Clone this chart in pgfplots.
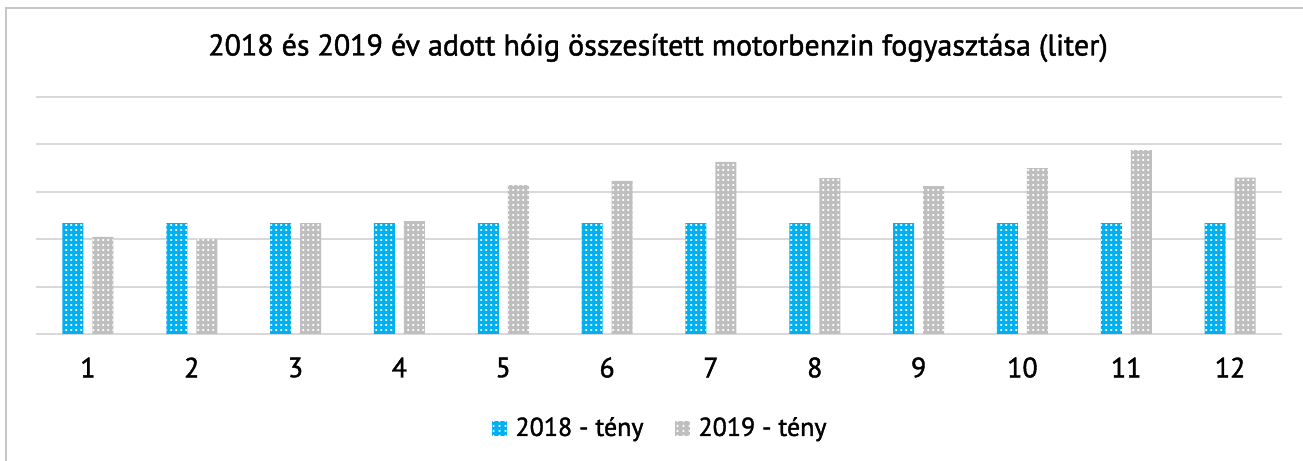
\documentclass[border=0pt]{standalone}
\usepackage{pgfplots}
\pgfplotsset{compat=1.18}
\usepackage{fontspec}
\setmainfont{PT Sans}[BoldFont={PT Sans}, BoldFeatures={FakeBold=1.5}]
\usetikzlibrary{patterns.meta}
\definecolor{cb}{HTML}{00B0F0}
\definecolor{cg}{HTML}{BFBFBF}
\definecolor{gridc}{HTML}{D9D9D9}
\pgfdeclarepattern{
  name=whitedots,
  type=uncolored,
  bottom left={\pgfpoint{0pt}{0pt}},
  top right={\pgfpoint{2.7pt}{2.3pt}},
  tile size={\pgfpoint{2.7pt}{2.3pt}},
  code={\pgfpathrectangle{\pgfpoint{0.8pt}{0.6pt}}{\pgfpoint{1.0pt}{1.0pt}}\pgfusepath{fill}}
}
\begin{document}
\begin{tikzpicture}
\useasboundingbox (0,0) rectangle (651.5pt,230.5pt);
\fill[white] (0,0) rectangle (651.5pt,230.5pt);
\draw[gray!45, line width=1pt] (3pt,226.5pt) rectangle (700pt,-50pt);
\node[font=\fontsize{15}{17}\selectfont\bfseries] at (329pt,206.5pt) {2018 és 2019 év adott hóig összesített motorbenzin fogyasztása (liter)};
\begin{axis}[
  at={(18pt,63.5pt)}, anchor=south west,
  scale only axis, width=623pt, height=118.5pt,
  xmin=0.5, xmax=12.5, ymin=0, ymax=5,
  ybar=4.5pt, bar width=10.5pt,
  xtick={1,...,12}, ytick={0,...,5},
  yticklabels={},
  /pgf/number format/assume math mode=true,
  ymajorgrids, grid style={gridc, line width=1pt},
  axis line style={draw=none},
  tick style={draw=none},
  xticklabel style={font=\fontsize{14}{16}\selectfont\bfseries, anchor=center, yshift=-12.5pt},
  legend columns=2,
  legend style={at={(0.502,-0.397)}, anchor=center, draw=none, fill=none,
    font=\fontsize{13}{15}\selectfont\bfseries, column sep=2pt,
    /tikz/every even column/.append style={column sep=14pt}},
  legend image code/.code={\fill[#1] (0pt,-3.75pt) rectangle (7.5pt,3.75pt);},
]
\addplot[fill=cb, draw=none, postaction={pattern=whitedots, pattern color=white}] coordinates {
(1,2.34) (2,2.34) (3,2.34) (4,2.34) (5,2.34) (6,2.34) (7,2.34) (8,2.34) (9,2.34) (10,2.34) (11,2.34) (12,2.34)};
\addplot[fill=cg, draw=none, postaction={pattern=whitedots, pattern color=white}] coordinates {
(1,2.05) (2,2.00) (3,2.34) (4,2.38) (5,3.14) (6,3.23) (7,3.63) (8,3.29) (9,3.12) (10,3.50) (11,3.88) (12,3.30)};
\legend{2018 - tény, 2019 - tény}
\end{axis}
\end{tikzpicture}
\end{document}
